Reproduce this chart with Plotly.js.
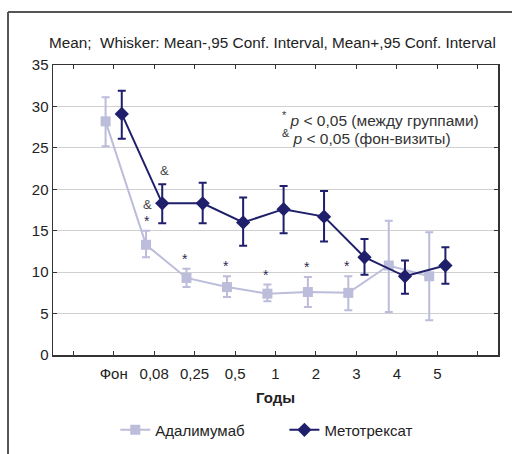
<!DOCTYPE html>
<html>
<head>
<meta charset="utf-8">
<script src="https://cdn.plot.ly/plotly-3.0.1.min.js"></script>
<style>html,body{margin:0;padding:0;background:#fff;}#chart{width:512px;height:454px;}</style>
</head>
<body>
<div id="chart"></div>
<script>
var categories = ["Фон", "0,08", "0,25", "0,5", "1", "2", "3", "4", "5"];
var adaMean  = [28.2, 13.3, 9.3, 8.2, 7.4, 7.6, 7.5, 10.8, 9.5];
var adaLow   = [25.2, 11.8, 8.2, 7.0, 6.5, 5.8, 5.4, 5.2, 4.2];
var adaHigh  = [31.1, 15.0, 10.4, 9.5, 8.5, 9.4, 9.5, 16.2, 14.8];
var metMean  = [29.1, 18.3, 18.3, 16.0, 17.6, 16.7, 11.8, 9.5, 10.8];
var metLow   = [26.1, 15.9, 15.9, 13.2, 14.7, 13.7, 9.7, 7.4, 8.6];
var metHigh  = [31.9, 20.6, 20.8, 19.0, 20.4, 19.8, 14.0, 11.4, 13.0];
var starIdx  = [2, 3, 4, 5, 6];

var pos = categories.map(function(c, i){ return i + 1; });
var tickText = [""].concat(categories).concat([""]);
var tickVals = tickText.map(function(t, i){ return i; });

var lightC = "#bcbcdb", darkC = "#1f1f6b";
var FF = "Liberation Sans, Arial, sans-serif";

var traces = [
  {
    x: pos.map(function(p){ return p - 0.2; }), y: adaMean,
    type: "scatter", mode: "lines+markers", name: "Адалимумаб", legend: "legend",
    line: {color: lightC, width: 2},
    marker: {symbol: "square", size: 10, color: lightC},
    error_y: {type: "data", symmetric: false,
      array: adaHigh.map(function(h, i){ return h - adaMean[i]; }),
      arrayminus: adaLow.map(function(l, i){ return adaMean[i] - l; }),
      color: lightC, thickness: 2, width: 4}
  },
  {
    x: pos.map(function(p){ return p + 0.2; }), y: metMean,
    type: "scatter", mode: "lines+markers", name: "Метотрексат", legend: "legend2",
    line: {color: darkC, width: 2},
    marker: {symbol: "diamond", size: 11, color: darkC},
    error_y: {type: "data", symmetric: false,
      array: metHigh.map(function(h, i){ return h - metMean[i]; }),
      arrayminus: metLow.map(function(l, i){ return metMean[i] - l; }),
      color: darkC, thickness: 2, width: 4}
  }
];

var ann = [];
starIdx.forEach(function(i){
  ann.push({x: pos[i] - 0.23, y: adaHigh[i], xref: "x", yref: "y", text: "*",
    showarrow: false, yshift: 10, font: {family: FF, size: 14, color: "#2a2a55"}});
});
ann.push({x: pos[1] + 0.25, y: metHigh[1], xref: "x", yref: "y", text: "&", showarrow: false, yshift: 14,
  font: {family: FF, size: 13, color: "#444"}});
ann.push({x: pos[1] - 0.17, y: adaHigh[1], xref: "x", yref: "y", text: "&", showarrow: false, yshift: 26,
  font: {family: FF, size: 13, color: "#444"}});
ann.push({x: pos[1] - 0.17, y: adaHigh[1], xref: "x", yref: "y", text: "*", showarrow: false, yshift: 10,
  font: {family: FF, size: 14, color: "#2a2a55"}});
ann.push({x: 0.51, y: 0.815, xref: "paper", yref: "paper", xanchor: "left", yanchor: "middle",
  text: "<sup>*</sup> <i>p</i> &lt; 0,05 (между группами)", showarrow: false,
  font: {family: FF, size: 15.5, color: "#333"}});
ann.push({x: 0.51, y: 0.753, xref: "paper", yref: "paper", xanchor: "left", yanchor: "middle",
  text: "<sup>&</sup> <i>p</i> &lt; 0,05 (фон-визиты)", showarrow: false,
  font: {family: FF, size: 15.5, color: "#333"}});
ann.push({x: 0.5, y: -0.145, xref: "paper", yref: "paper", xanchor: "center", yanchor: "middle",
  text: "<b>Годы</b>", showarrow: false,
  font: {family: FF, size: 15, color: "#222"}});

var legBase = {orientation: "h", yanchor: "middle", y: -0.259, xanchor: "left",
  font: {family: FF, size: 15, color: "#222"}, itemwidth: 30, bgcolor: "rgba(0,0,0,0)"};

var layout = {
  width: 512, height: 454,
  margin: {l: 53, r: 14, t: 65, b: 99, autoexpand: false},
  paper_bgcolor: "#fff", plot_bgcolor: "#fff",
  font: {family: FF, size: 15, color: "#222"},
  title: {text: "Mean;  Whisker: Mean-,95 Conf. Interval, Mean+,95 Conf. Interval",
    x: 0.532, xanchor: "center", y: 0.905, yanchor: "middle", xref: "container", yref: "container",
    font: {family: FF, size: 15.3, color: "#222"}},
  xaxis: {range: [-0.5, 10.5], tickvals: tickVals, ticktext: tickText, showgrid: false,
    zeroline: false, showline: true, linecolor: "#333", linewidth: 1.5, mirror: "ticks",
    ticks: "inside", ticklen: 4, tickcolor: "#333", tickfont: {family: FF, size: 15, color: "#222"},
    ticklabelstandoff: 4},
  yaxis: {range: [0, 35], dtick: 5, showgrid: true, gridcolor: "#d0d0d0", gridwidth: 1,
    zeroline: false, showline: true, linecolor: "#333", linewidth: 1.5, mirror: "ticks",
    ticks: "inside", ticklen: 4, tickcolor: "#333", tickfont: {family: FF, size: 15, color: "#222"}},
  showlegend: true,
  legend: Object.assign({}, legBase, {x: 0.14}),
  legend2: Object.assign({}, legBase, {x: 0.52}),
  annotations: ann,
  shapes: [
    {type: "line", xref: "paper", yref: "paper", x0: -0.1011, x1: 1.04, y0: 1.1828, y1: 1.1828,
      line: {color: "#555", width: 2}},
    {type: "line", xref: "paper", yref: "paper", x0: -0.1011, x1: -0.1011, y0: 1.1828, y1: -0.35,
      line: {color: "#555", width: 2}}
  ]
};

Plotly.newPlot("chart", traces, layout, {displayModeBar: false, staticPlot: true});
</script>
</body>
</html>
